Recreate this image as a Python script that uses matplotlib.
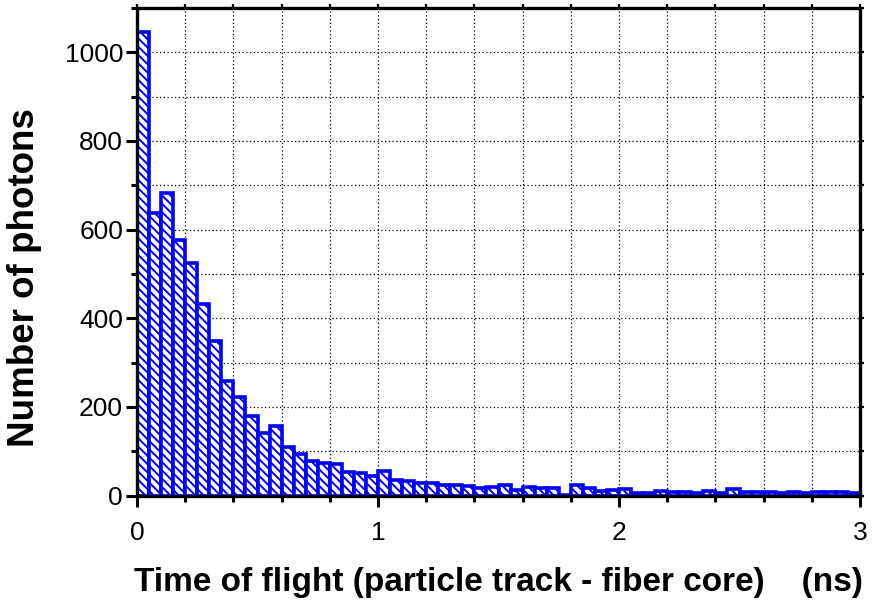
import numpy as np
import matplotlib
matplotlib.use("Agg")
import matplotlib.pyplot as plt
from matplotlib.ticker import MultipleLocator

# ---- data ----
bin_width = 0.05
bin_left = [round(i * bin_width, 2) for i in range(60)]
counts = [1045, 638, 683, 577, 524, 432, 349, 259, 223, 180,
          140, 156, 110, 94, 78, 74, 71, 54, 51, 45,
          55, 36, 32, 28, 28, 23, 23, 22, 18, 20,
          23, 12, 19, 18, 16, 2, 24, 18, 10, 12,
          15, 6, 5, 10, 8, 7, 5, 11, 6, 15,
          7, 7, 7, 6, 9, 5, 8, 8, 8, 6]
x_major = [0, 1, 2, 3]
y_major = [0, 200, 400, 600, 800, 1000]
xlabel = "Time of flight (particle track - fiber core)    (ns)"
ylabel = "Number of photons"

plt.rcParams['font.family'] = ['Liberation Sans', 'DejaVu Sans']
plt.rcParams['hatch.linewidth'] = 1.4
plt.rcParams['hatch.color'] = '#0000FF'

fig = plt.figure(figsize=(8.73, 6.05), dpi=100)
ax = fig.add_axes([137/873, 1 - 495.5/605, (860-137)/873, (495.5-8)/605])

ax.bar(bin_left, counts, width=bin_width, align='edge', facecolor='white',
       edgecolor='#0000FF', linewidth=2.6, hatch='\\\\\\\\', zorder=3)

ax.set_xlim(0, 3)
ax.set_ylim(0, 1100)
ax.set_xticks(x_major)
ax.set_yticks(y_major)
ax.xaxis.set_minor_locator(MultipleLocator(0.2))
ax.yaxis.set_minor_locator(MultipleLocator(100))

ax.grid(which='both', color='black', linestyle=(0, (1, 2)), linewidth=0.9, zorder=0)
ax.set_axisbelow(True)

for s in ax.spines.values():
    s.set_linewidth(2.4)
    s.set_zorder(5)

ax.tick_params(which='major', direction='out', length=8, width=2.2, labelsize=19,
               top=False, right=False)
ax.tick_params(which='minor', direction='out', length=4.5, width=2.2,
               top=False, right=False)
ax.tick_params(axis='x', which='major', pad=10)
ax.tick_params(axis='y', which='major', pad=2)

# short ticks on top and right
sx = ax.secondary_xaxis('top')
sx.set_xticks(np.arange(0, 3.01, 0.2))
sx.tick_params(direction='out', length=3, width=1.6, labeltop=False)
sx.spines['top'].set_visible(False)
sy = ax.secondary_yaxis('right')
sy.set_yticks(np.arange(0, 1101, 100))
sy.tick_params(direction='out', length=3, width=1.6, labelright=False)
sy.spines['right'].set_visible(False)

ax.set_xlabel(xlabel, fontsize=24, fontweight='bold', labelpad=16)
ax.set_ylabel(ylabel, fontsize=26.5, fontweight='bold')
ax.yaxis.set_label_coords(-0.1314, 0.448)

fig.savefig("out.png", dpi=100)
